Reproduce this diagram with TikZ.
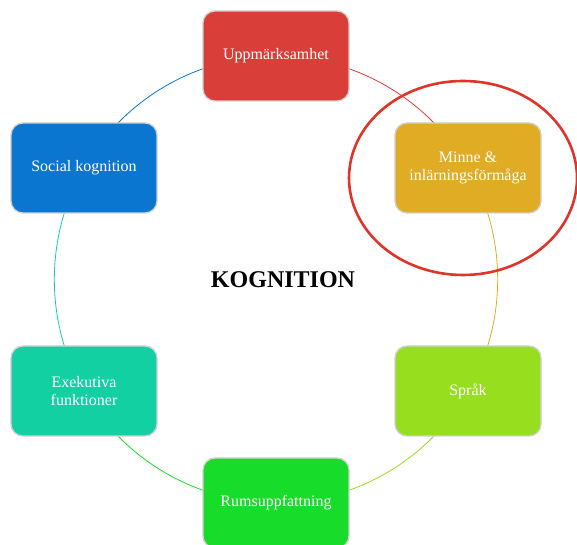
\documentclass[tikz,border=0pt]{standalone}
\usepackage{fontspec}
\setmainfont{Liberation Serif}
\usetikzlibrary{backgrounds}

\definecolor{uppRed}{RGB}{218,62,56}
\definecolor{minneGold}{RGB}{224,172,36}
\definecolor{sprakLime}{RGB}{150,222,30}
\definecolor{rumsGreen}{RGB}{24,220,42}
\definecolor{exekTeal}{RGB}{18,208,162}
\definecolor{socialBlue}{RGB}{10,118,208}
\definecolor{ringRed}{RGB}{222,52,42}

\begin{document}
\begin{tikzpicture}[
  x=1bp, y=1bp, line cap=round, line join=round,
  box/.style={draw=black!18, line width=1.3bp, rounded corners=12bp,
              minimum width=146bp, minimum height=90bp, inner sep=2pt,
              align=center, text=white,
              font=\fontsize{16bp}{18bp}\selectfont},
  ring/.style={line width=0.8bp}
]
  \useasboundingbox (0,0) rectangle (577,545);

  % ── Boxes on the circle ─────────────────────────────────────────────────

  \node[box, fill=uppRed]     (upp)    at (276, 489) {Uppmärksamhet};
  \node[box, fill=minneGold]  (minne)  at (468, 377) {Minne \&\\inlärningsförmåga};
  \node[box, fill=sprakLime]  (sprak)  at (468, 154) {Språk};
  \node[box, fill=rumsGreen]  (rums)   at (276,  42) {Rumsuppfattning};
  \node[box, fill=exekTeal]   (exek)   at ( 84, 154) {Exekutiva\\funktioner};
  \node[box, fill=socialBlue] (social) at ( 84, 377) {Social kognition};

  % Centre title
  \node[font=\fontsize{24bp}{28bp}\selectfont\bfseries] (title) at (283, 265) {KOGNITION};

  % ── Circle arcs between the boxes ───────────────────────────────────────

  \begin{scope}[on background layer, bend left=30, looseness=0.91]
    \draw[ring, uppRed]     (upp.center)    to (minne.center);
    \draw[ring, minneGold]  (minne.center)  to (sprak.center);
    \draw[ring, sprakLime]  (sprak.center)  to (rums.center);
    \draw[ring, rumsGreen]  (rums.center)   to (exek.center);
    \draw[ring, exekTeal]   (exek.center)   to (social.center);
    \draw[ring, socialBlue] (social.center) to (upp.center);
  \end{scope}

  % Highlight ring round Minne
  \draw[ringRed, line width=2.6bp] (463, 367) ellipse (114 and 97);

\end{tikzpicture}
\end{document}
